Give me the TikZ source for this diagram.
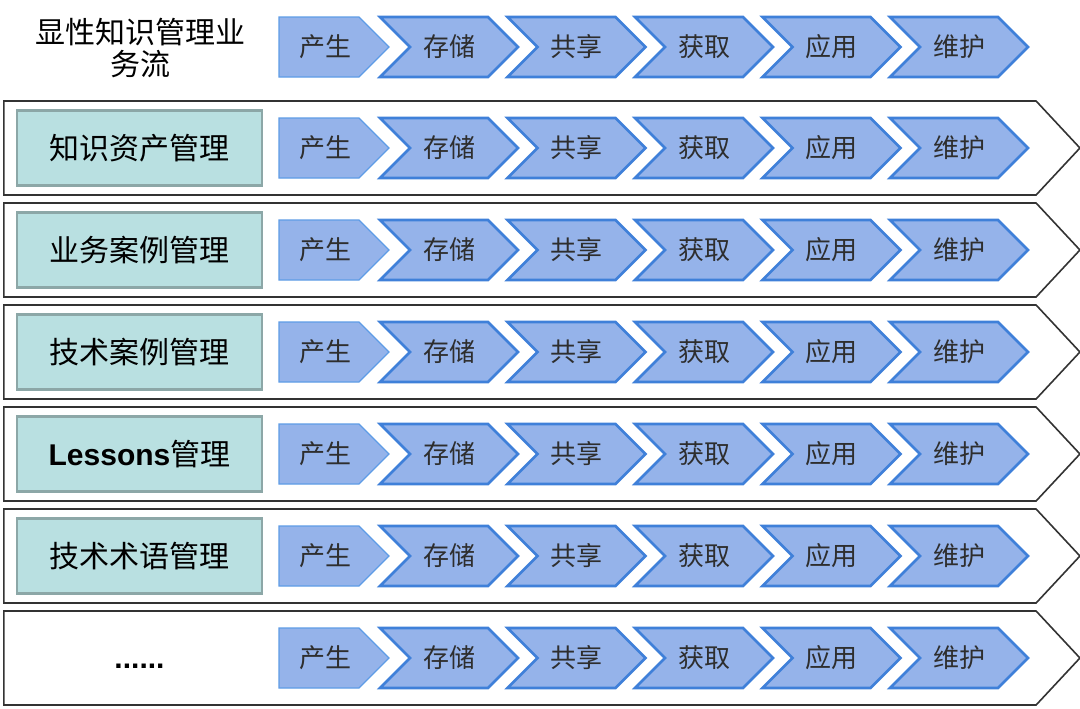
\documentclass[tikz,border=0pt]{standalone}
\usepackage{fontspec}
\setmainfont{Noto Sans CJK SC}
\newfontfamily\latinsans{Liberation Sans}
\usetikzlibrary{shapes.symbols}

\definecolor{stepfill}{HTML}{95B3EA}
\definecolor{stepline}{HTML}{3F80D9}
\definecolor{firstline}{HTML}{5E9CE6}
\definecolor{namefill}{HTML}{B9E0E1}
\definecolor{nameline}{HTML}{8CA7A7}
\definecolor{rowline}{HTML}{333333}
\definecolor{steptext}{HTML}{2E2E2E}

\tikzset{
  rowarrow/.style={signal, signal to=east, draw=rowline, line width=1.2pt, fill=white,
    minimum width=807pt, minimum height=70.5pt, signal pointer angle=94, inner sep=0pt},
  namebox/.style={rectangle, draw=nameline, line width=2pt, fill=namefill,
    minimum width=183.75pt, minimum height=56.25pt, inner sep=0pt,
    font=\fontsize{22.5}{24}\selectfont},
  firststep/.style={signal, signal to=east, draw=firstline, line width=1pt, fill=stepfill,
    minimum width=82.5pt, minimum height=45pt, signal pointer angle=90, inner sep=0pt,
    text=steptext, font=\fontsize{19.5}{20}\selectfont},
  stepbox/.style={firststep, signal from=west, draw=stepline, line width=2pt,
    minimum width=103.5pt}
}

\begin{document}
\begin{tikzpicture}[x=0.75pt,y=-0.75pt]
\useasboundingbox (0,0) rectangle (1080,708);
% the bare flow on top
\node[align=center, font=\fontsize{22.5}{23.5}\selectfont] (title) at (140,48) {显性知识管理业\\务流};
\node[firststep] (s0-1) at (319,47) {\hspace*{10pt}产生};
\foreach \t [count=\i from 2] in {存储,共享,获取,应用,维护}
  \node[stepbox] (s0-\i) at ({449+127.5*(\i-2)},47) {\t};
% one row for each kind of knowledge
\foreach \r in {1,...,6}{
  \node[rowarrow] (row\r) at (520,{46+102*\r}) {};
  \node[firststep] (s\r-1) at (319,{46+102*\r}) {\hspace*{10pt}产生};
  \foreach \t [count=\i from 2] in {存储,共享,获取,应用,维护}
    \node[stepbox] (s\r-\i) at ({449+127.5*(\i-2)},{46+102*\r}) {\t};
}
\foreach \n [count=\r] in {知识资产管理,业务案例管理,技术案例管理,{{\latinsans\bfseries Lessons}管理},技术术语管理}
  \node[namebox] (name\r) at (139.5,{46+102*\r}) {\n};
\node[font=\latinsans\bfseries\fontsize{22.5}{24}\selectfont] (more) at (139.5,666) {......};
\end{tikzpicture}
\end{document}
